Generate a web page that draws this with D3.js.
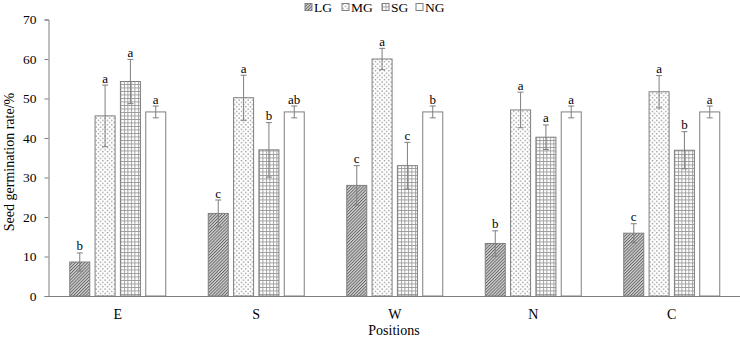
<!DOCTYPE html>
<html>
<head>
    <meta charset="utf-8">
    <title>Seed germination rate</title>
    <style>
        body { margin: 0; background: #fff; }
        text { font-family: "Liberation Serif", "Times New Roman", serif; fill: #000; }
    </style>
</head>
<body>
    <svg width="740" height="338"></svg>
    <script src="https://cdnjs.cloudflare.com/ajax/libs/d3/7.8.5/d3.min.js"></script>
    <script>
        // datos
        const positions = ["E", "S", "W", "N", "C"];
        const groups = ["LG", "MG", "SG", "NG"];
        const LG = [8.6, 20.9, 28.0, 13.3, 15.9];
        const MG = [45.6, 50.2, 60.0, 47.1, 51.7];
        const SG = [54.3, 37.0, 33.0, 40.2, 36.9];
        const NG = [46.6, 46.6, 46.6, 46.6, 46.6];
        const errLG = [2.3, 3.4, 5.0, 3.2, 2.4];
        const errMG = [7.8, 5.7, 2.7, 4.5, 4.1];
        const errSG = [5.6, 6.9, 5.9, 3.1, 4.7];
        const errNG = [1.5, 1.5, 1.5, 1.5, 1.5];
        const lettersLG = ["b", "c", "c", "b", "c"];
        const lettersMG = ["a", "a", "a", "a", "a"];
        const lettersSG = ["a", "b", "c", "a", "b"];
        const lettersNG = ["a", "ab", "b", "a", "a"];
        const yTicks = [0, 10, 20, 30, 40, 50, 60, 70];

        const values = { LG: LG, MG: MG, SG: SG, NG: NG };
        const errors = { LG: errLG, MG: errMG, SG: errSG, NG: errNG };
        const letters = { LG: lettersLG, MG: lettersMG, SG: lettersSG, NG: lettersNG };

        const rows = [];
        positions.forEach((p, i) => {
            groups.forEach(g => {
                rows.push({ pos: p, group: g, value: values[g][i], err: errors[g][i], letter: letters[g][i] });
            });
        });

        const svg = d3.select("svg");
        const margin = { left: 48.5, right: 0, top: 19.5, bottom: 42 };
        const width = 741;
        const bottom = 296;

        const x = d3.scaleBand().domain(positions).range([margin.left, width]).padding(0);
        const groupWidth = 96;
        const xInner = d3.scaleBand().domain(groups).range([0, groupWidth]).paddingInner(0.21).paddingOuter(0);
        const y = d3.scaleLinear().domain([0, 70]).range([bottom, margin.top]);

        const grey = "#7f7f7f";

        // patrones de relleno
        const defs = svg.append("defs");
        const pLG = defs.append("pattern").attr("id", "pLG")
            .attr("patternUnits", "userSpaceOnUse").attr("width", 2.2).attr("height", 4)
            .attr("patternTransform", "rotate(45)");
        pLG.append("rect").attr("width", 2.2).attr("height", 4).attr("fill", "#d4d4d4");
        pLG.append("line").attr("x1", 0.5).attr("y1", 0).attr("x2", 0.5).attr("y2", 4)
            .attr("stroke", "#505050").attr("stroke-width", 0.8);

        const pMG = defs.append("pattern").attr("id", "pMG")
            .attr("patternUnits", "userSpaceOnUse").attr("width", 4.5).attr("height", 4.5);
        pMG.append("rect").attr("width", 4.5).attr("height", 4.5).attr("fill", "#fff");
        [[0.5, 0.5], [2.75, 2.75]].forEach(d => {
            pMG.append("rect").attr("x", d[0]).attr("y", d[1]).attr("width", 1.1).attr("height", 1.1).attr("fill", "#666");
        });

        const pSG = defs.append("pattern").attr("id", "pSG")
            .attr("patternUnits", "userSpaceOnUse").attr("width", 3.5).attr("height", 3.5);
        pSG.append("rect").attr("width", 3.5).attr("height", 3.5).attr("fill", "#fff");
        pSG.append("path").attr("d", "M0,0.5H3.5M0.5,0V3.5").attr("stroke", "#999").attr("stroke-width", 0.9).attr("fill", "none");

        const fills = { LG: "url(#pLG)", MG: "url(#pMG)", SG: "url(#pSG)", NG: "#fff" };

        // barras
        const bars = svg.append("g").selectAll("g")
            .data(rows).enter().append("g")
            .attr("transform", d => "translate(" + (x(d.pos) + (x.bandwidth() - groupWidth) / 2 + xInner(d.group)) + ",0)");

        bars.append("rect")
            .attr("x", 0)
            .attr("y", d => y(d.value))
            .attr("width", xInner.bandwidth())
            .attr("height", d => bottom - y(d.value))
            .attr("fill", d => fills[d.group])
            .attr("stroke", grey)
            .attr("stroke-width", 1);

        // barras de error
        const cx = xInner.bandwidth() / 2;
        bars.append("line")
            .attr("x1", cx).attr("x2", cx)
            .attr("y1", d => y(d.value - d.err)).attr("y2", d => y(d.value + d.err))
            .attr("stroke", grey).attr("stroke-width", 1);
        bars.selectAll(".cap")
            .data(d => [d.value - d.err, d.value + d.err])
            .enter().append("line")
            .attr("class", "cap")
            .attr("x1", cx - 3).attr("x2", cx + 3)
            .attr("y1", v => y(v)).attr("y2", v => y(v))
            .attr("stroke", grey).attr("stroke-width", 1);

        bars.append("text")
            .attr("x", cx)
            .attr("y", d => y(d.value + d.err) - 2.5)
            .attr("text-anchor", "middle")
            .attr("font-size", "13px")
            .text(d => d.letter);

        // ejes
        const yAxis = d3.axisLeft(y).tickValues(yTicks).tickSize(4).tickPadding(8);
        const gy = svg.append("g").attr("transform", "translate(" + margin.left + ",0)").call(yAxis);
        gy.selectAll("text").attr("font-size", "13.5px").attr("font-family", "Liberation Serif");
        gy.selectAll("line, path").attr("stroke", grey);

        const xAxis = d3.axisBottom(x).tickSize(0).tickPadding(13).tickSizeOuter(0);
        const gx = svg.append("g").attr("transform", "translate(0," + bottom + ")").call(xAxis);
        gx.selectAll("text").attr("font-size", "14px").attr("font-family", "Liberation Serif");
        gx.select("path").attr("stroke", grey);

        svg.append("text")
            .attr("transform", "translate(14,162) rotate(-90)")
            .attr("text-anchor", "middle")
            .attr("font-size", "14px")
            .text("Seed germination rate/%");

        svg.append("text")
            .attr("x", 394).attr("y", 335)
            .attr("text-anchor", "middle")
            .attr("font-size", "14px")
            .text("Positions");

        // leyenda
        const legend = svg.append("g");
        const legendX = [305, 342, 382, 416];
        groups.forEach((g, i) => {
            const item = legend.append("g").attr("transform", "translate(" + legendX[i] + ",3)");
            item.append("rect").attr("x", 0).attr("y", 0.5).attr("width", 7).attr("height", 7)
                .attr("fill", fills[g]).attr("stroke", grey).attr("stroke-width", 1);
            item.append("text").attr("x", 9).attr("y", 9).attr("font-size", "13.5px").text(g);
        });
    </script>
</body>
</html>
